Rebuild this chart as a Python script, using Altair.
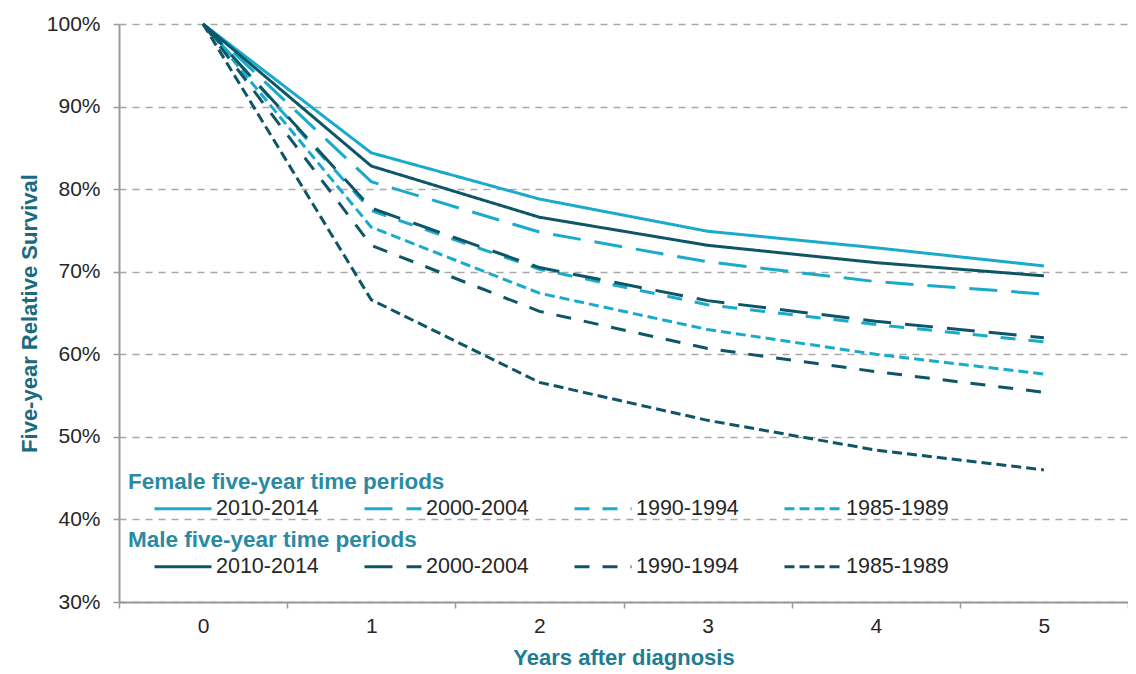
import altair as alt
import pandas as pd

years = [0, 1, 2, 3, 4, 5]
periods = ["2010-2014", "2000-2004", "1990-1994", "1985-1989"]

female_2010 = [100, 84.4, 78.8, 74.9, 72.9, 70.7]
female_2000 = [100, 80.9, 74.8, 71.2, 68.8, 67.3]
female_1990 = [100, 77.4, 70.3, 66.0, 63.6, 61.5]
female_1985 = [100, 75.4, 67.4, 63.0, 60.0, 57.6]

male_2010 = [100, 82.8, 76.6, 73.2, 71.1, 69.5]
male_2000 = [100, 77.7, 70.5, 66.5, 64.0, 62.0]
male_1990 = [100, 73.2, 65.2, 60.7, 57.9, 55.4]
male_1985 = [100, 66.6, 56.6, 52.0, 48.4, 46.0]

y_ticks = [30, 40, 50, 60, 70, 80, 90, 100]

CYAN = "#19abcc"
DARK = "#0e5566"
TEAL_TITLE = "#1d7d95"
FONT = "Liberation Sans"
dashes = [[1, 0], [28, 14], [15, 13], [10, 5]]


def frame(series):
    rows = []
    for period, vals in zip(periods, series):
        for yr, v in zip(years, vals):
            rows.append({"year": yr, "survival": v, "period": period})
    return pd.DataFrame(rows)


female_df = frame([female_2010, female_2000, female_1990, female_1985])
male_df = frame([male_2010, male_2000, male_1990, male_1985])

x_enc = alt.X(
    "year:O",
    scale=alt.Scale(type="band", paddingInner=0, paddingOuter=0),
    axis=alt.Axis(
        title="Years after diagnosis",
        titleFont=FONT,
        titleFontSize=22,
        titleFontWeight="bold",
        titleColor=TEAL_TITLE,
        titleY=55,
        titleBaseline="middle",
        labelAngle=0,
        labelFont=FONT,
        labelFontSize=21,
        labelColor="#262626",
        labelPadding=7,
        tickBand="extent",
        tickSize=6,
        tickColor="#9a9a9a",
        tickWidth=1.5,
        domainColor="#9a9a9a",
        domainWidth=2,
        grid=False,
    ),
)

y_enc = alt.Y(
    "survival:Q",
    scale=alt.Scale(domain=[30, 100], nice=False, zero=False),
    axis=alt.Axis(
        values=y_ticks,
        labelExpr="datum.value + '%'",
        title="Five-year Relative Survival",
        titleFont=FONT,
        titleFontSize=22,
        titleFontWeight="bold",
        titleColor="#1a6b80",
        titleX=-90,
        titleY=289,
        titleAngle=270,
        titleAlign="center",
        titleBaseline="middle",
        labelFont=FONT,
        labelFontSize=21,
        labelColor="#262626",
        labelPadding=13,
        tickSize=6,
        tickColor="#9a9a9a",
        tickWidth=1.5,
        domainColor="#9a9a9a",
        domainWidth=2,
        grid=True,
        gridColor="#a8a8a8",
        gridDash=[7, 6],
        gridWidth=1.5,
    ),
)


def legend(title, color, ly):
    return alt.Legend(
        title=title,
        orient="none",
        legendX=9,
        legendY=ly,
        direction="horizontal",
        columns=4,
        titleFont=FONT,
        titleFontSize=22.5,
        titleFontWeight="bold",
        titleColor="#2a8aa3",
        titlePadding=5,
        titleLimit=600,
        labelFont=FONT,
        labelFontSize=21.5,
        labelColor="#262626",
        labelLimit=300,
        symbolType="stroke",
        symbolSize=3249,
        symbolStrokeWidth=3,
        symbolStrokeColor=color,
        symbolOffset=25,
        labelOffset=3,
        columnPadding=19,
        rowPadding=0,
        clipHeight=20,
        padding=0,
    )


female = alt.Chart(female_df).mark_line(strokeWidth=3, color=CYAN).encode(
    x=x_enc,
    y=y_enc,
    strokeDash=alt.StrokeDash(
        "period:N",
        scale=alt.Scale(domain=periods, range=dashes),
        sort=periods,
        legend=legend("Female five-year time periods", CYAN, 447),
    ),
)

male = alt.Chart(male_df).mark_line(strokeWidth=3, color=DARK).encode(
    x=x_enc,
    y=y_enc,
    strokeDash=alt.StrokeDash(
        "period:N",
        scale=alt.Scale(domain=periods, range=dashes),
        sort=periods,
        legend=legend("Male five-year time periods", DARK, 505),
    ),
)

chart = (
    alt.layer(female, male)
    .resolve_scale(strokeDash="independent")
    .properties(
        width=1009,
        height=578,
        autosize=alt.AutoSizeParams(type="none"),
        padding={"left": 111, "top": 16, "right": 0, "bottom": 72},
        background="white",
    )
    .configure_view(stroke=None)
)

chart.save("out.html", embed_options={"renderer": "svg", "actions": False})
